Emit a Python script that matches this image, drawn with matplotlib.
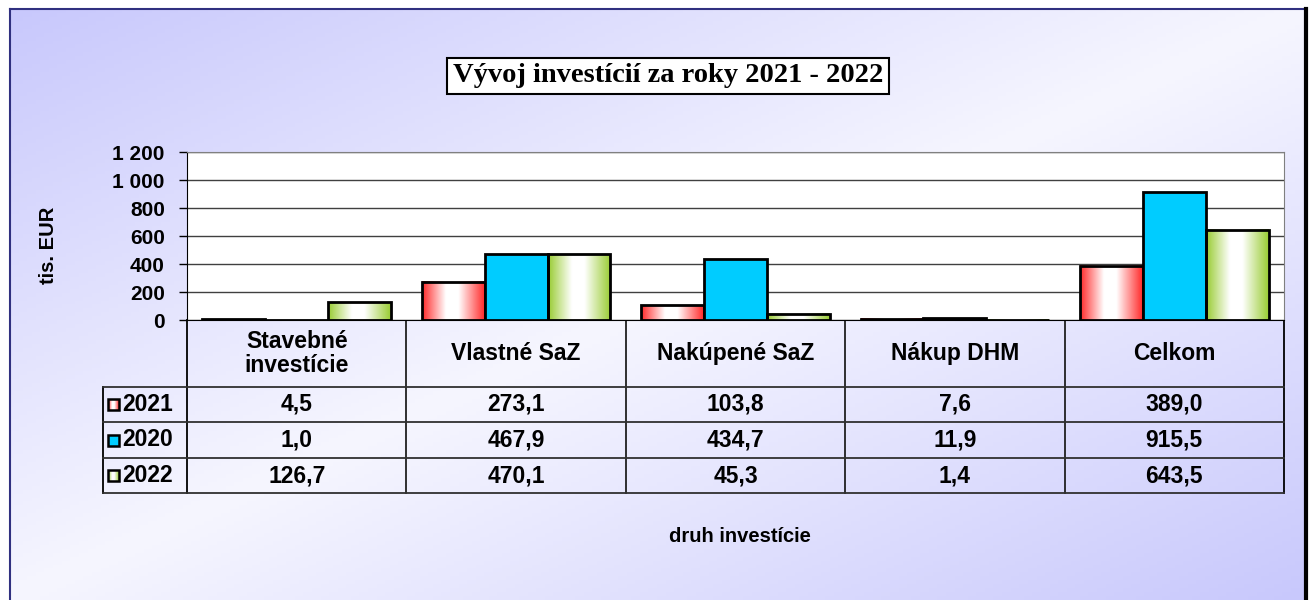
import numpy as np
import matplotlib
matplotlib.use("Agg")
import matplotlib.pyplot as plt
from matplotlib.patches import Rectangle
from matplotlib.ticker import FuncFormatter

categories = ["Stavebné\ninvestície", "Vlastné SaZ", "Nakúpené SaZ", "Nákup DHM", "Celkom"]
years = ["2021", "2020", "2022"]
v2021 = [4.5, 273.1, 103.8, 7.6, 389.0]
v2020 = [1.0, 467.9, 434.7, 11.9, 915.5]
v2022 = [126.7, 470.1, 45.3, 1.4, 643.5]
series = [v2021, v2020, v2022]
colors = ["#ff2a2a", "#00ccff", "#99cc33"]
gradient = [True, False, True]

title = "Vývoj investícií za roky 2021 - 2022"
ylabel = "tis. EUR"
xlabel = "druh investície"

W, H = 1310, 600
fig = plt.figure(figsize=(W / 100, H / 100), dpi=100)

# background with border
bg = fig.add_axes([0, 0, 1, 1])
bg.set_xlim(0, W)
bg.set_ylim(H, 0)
bg.axis("off")
xx, yy = np.meshgrid(np.linspace(0, 1, 300), np.linspace(0, 1, 150))
s = np.abs(2 * (0.5 * xx + 0.5 * yy) - 1)
lav = np.array([200, 200, 252]) / 255
wh = np.array([246, 246, 255]) / 255
img = wh + (lav - wh) * s[..., None]
bg.imshow(img, extent=(10, 1304, H, 9), aspect="auto", zorder=0)
bg.plot([10, 10], [9, H], color="#303080", lw=1.5, zorder=1)
bg.plot([10, 1304], [9, 9], color="#303080", lw=1.5, zorder=1)
bg.plot([1306, 1306], [9, H], color="black", lw=3, zorder=1)

bg.text(668, 76, title, ha="center", va="center", fontsize=20.5, fontweight="bold",
        family="Liberation Serif",
        bbox=dict(boxstyle="square,pad=0.2", fc="white", ec="black", lw=1.5))
bg.text(48, 245, ylabel, rotation=90, ha="center", va="center", fontsize=14.5,
        fontweight="bold", family="Liberation Sans")
bg.text(740, 537, xlabel, ha="center", va="center", fontsize=14.5,
        fontweight="bold", family="Liberation Sans")

# plot area
left, right, top, bottom = 187, 1284, 152, 320
ax = fig.add_axes([left / W, 1 - bottom / H, (right - left) / W, (bottom - top) / H])
ax.set_facecolor("white")
ax.set_xlim(0, len(categories))
ax.set_ylim(0, 1200)
ax.set_yticks(np.arange(0, 1201, 200))
ax.yaxis.set_major_formatter(FuncFormatter(lambda v, p: f"{int(v):,}".replace(",", " ")))
ax.set_xticks([])
ax.tick_params(axis="y", length=6, width=1, labelsize=15, pad=10)
for lab in ax.get_yticklabels():
    lab.set_fontweight("bold")
    lab.set_family("Liberation Sans")
ax.grid(axis="y", color="#404040", lw=1)
ax.set_axisbelow(True)
for sp in ["top", "right"]:
    ax.spines[sp].set_color("#808080")
ax.spines["left"].set_color("black")
ax.spines["bottom"].set_color("black")

margin = 0.07
bw = (1 - 2 * margin) / 3
t = np.linspace(0, 1, 100)
f = np.clip(1 - np.minimum(t / 0.38, (1 - t) / 0.42), 0, 1)
for j, vals in enumerate(series):
    c = np.array(matplotlib.colors.to_rgb(colors[j]))
    for i, v in enumerate(vals):
        x0 = i + margin + j * bw
        if gradient[j]:
            g = 1 + (c - 1) * f[:, None]
            ax.imshow(g[None, :, :], extent=(x0, x0 + bw, 0, v), aspect="auto", zorder=2)
            ax.add_patch(Rectangle((x0, 0), bw, v, fc="none", ec="black", lw=2, zorder=3))
        else:
            ax.add_patch(Rectangle((x0, 0), bw, v, fc=colors[j], ec="black", lw=2, zorder=3))
ax.set_xlim(0, len(categories))
ax.set_ylim(0, 1200)

# data table
cols = np.linspace(left, right, len(categories) + 1)
rows = [320, 387, 422, 458, 493]
leg_x = 103
for x in cols:
    bg.plot([x, x], [rows[0], rows[-1]], color="black" if x in (cols[0], cols[-1]) else "#202020", lw=1.3, zorder=2)
bg.plot([leg_x, leg_x], [rows[1], rows[-1]], color="black", lw=1.3, zorder=2)
for y in rows[1:]:
    bg.plot([leg_x, right], [y, y], color="#303030", lw=1.3, zorder=2)

fs = 16.5
for i, cat in enumerate(categories):
    cx = (cols[i] + cols[i + 1]) / 2
    bg.text(cx, (rows[0] + rows[1]) / 2, cat, ha="center", va="center", fontsize=fs,
            fontweight="bold", family="Liberation Sans", linespacing=1.05)
for j, vals in enumerate(series):
    cy = (rows[j + 1] + rows[j + 2]) / 2
    for i, v in enumerate(vals):
        cx = (cols[i] + cols[i + 1]) / 2
        bg.text(cx, cy, f"{v:.1f}".replace(".", ","), ha="center", va="center",
                fontsize=fs, fontweight="bold", family="Liberation Sans")
    c = np.array(matplotlib.colors.to_rgb(colors[j]))
    if gradient[j]:
        g = 1 + (c - 1) * f[:, None]
        bg.imshow(g[None, :, :], extent=(108, 119, cy + 5.5, cy - 5.5), aspect="auto", zorder=3)
        bg.add_patch(Rectangle((108, cy - 5.5), 11, 11, fc="none", ec="black", lw=1.8, zorder=4))
    else:
        bg.add_patch(Rectangle((108, cy - 5.5), 11, 11, fc=colors[j], ec="black", lw=1.8, zorder=4))
    bg.text(122, cy, years[j], ha="left", va="center", fontsize=fs,
            fontweight="bold", family="Liberation Sans")
bg.set_xlim(0, W)
bg.set_ylim(H, 0)

fig.savefig("out.png", dpi=100)
